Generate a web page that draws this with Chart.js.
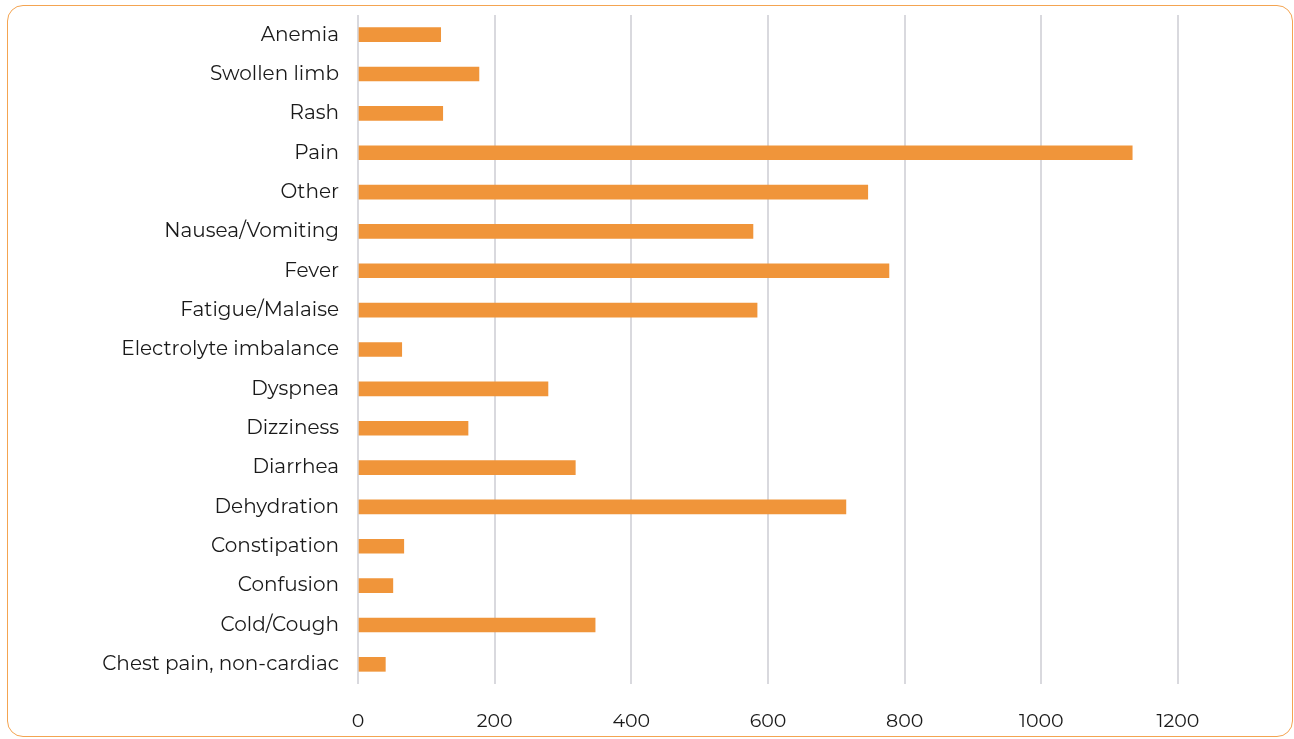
<!DOCTYPE html>
<html>
<head>
<meta charset="utf-8">
<script src="https://cdn.jsdelivr.net/npm/chart.js@4"></script>
<style>
    html, body { margin: 0; padding: 0; background: #ffffff; }
    body { width: 1294px; height: 739px; position: relative; overflow: hidden; }
    .frame {
        position: absolute; left: 7px; top: 5px; width: 1284px; height: 730px;
        border: 1.5px solid #f4a451; border-radius: 16px;
    }
    .wrap { position: absolute; left: 0; top: 0; width: 1294px; height: 739px; }
</style>
</head>
<body>
<div class="frame"></div>
<div class="wrap"><canvas id="chart" width="1294" height="739"></canvas></div>
<script>
const categories = [
    'Anemia', 'Swollen limb', 'Rash', 'Pain', 'Other', 'Nausea/Vomiting', 'Fever',
    'Fatigue/Malaise', 'Electrolyte imbalance', 'Dyspnea', 'Dizziness', 'Diarrhea',
    'Dehydration', 'Constipation', 'Confusion', 'Cold/Cough', 'Chest pain, non-cardiac'
];
const counts = [121, 177, 124, 1133, 746, 578, 777, 584, 64, 278, 161, 318, 714, 67, 51, 347, 40];
const tickValues = [0, 200, 400, 600, 800, 1000, 1200];

const font = "'Montserrat', 'Lato', 'Noto Sans', sans-serif";

const ctx = document.getElementById('chart').getContext('2d');
const chart = new Chart(ctx, {
    type: 'bar',
    data: {
        labels: categories,
        datasets: [{
            label: 'Count',
            data: counts,
            backgroundColor: '#f0953a',
            borderWidth: 0,
            barThickness: 14
        }]
    },
    options: {
        indexAxis: 'y',
        responsive: false,
        animation: false,
        layout: {
            padding: { left: 0, right: 116, top: 15, bottom: 0 }
        },
        scales: {
            x: {
                min: 0,
                max: 1200,
                afterBuildTicks: function(scale) {
                    scale.ticks = tickValues.map(v => ({ value: v }));
                },
                afterFit: function(scale) {
                    scale.height = 55;
                },
                grid: {
                    color: '#d9d9de',
                    lineWidth: 2,
                    drawTicks: false
                },
                border: { display: false },
                ticks: {
                    padding: 26,
                    color: '#1a1a1a',
                    font: { family: font, size: 19 },
                    callback: function(value) { return String(value); }
                }
            },
            y: {
                afterFit: function(scale) {
                    scale.width = 358;
                    // don't reserve extra room for half label heights
                    scale.paddingTop = 0;
                    scale.paddingBottom = 0;
                },
                grid: { display: false },
                border: { display: false },
                ticks: {
                    padding: 11,
                    color: '#1a1a1a',
                    font: { family: font, size: 20 }
                }
            }
        },
        plugins: {
            legend: { display: false },
            tooltip: { enabled: false }
        }
    }
});
</script>
</body>
</html>
